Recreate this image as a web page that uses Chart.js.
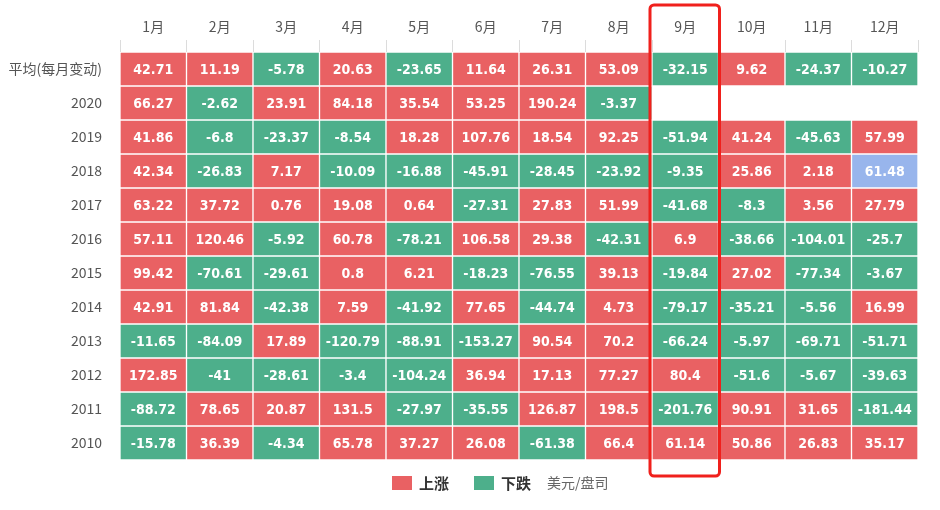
<!DOCTYPE html>
<html>
<head>
<meta charset="utf-8">
<script src="https://cdn.jsdelivr.net/npm/chart.js@4/dist/chart.umd.min.js"></script>
<style>
  html, body { margin: 0; padding: 0; background: #fff; }
  #wrap { width: 940px; height: 510px; position: relative; }
</style>
</head>
<body>
<div id="wrap"><canvas id="heat"></canvas></div>
<script>
// -----------------------------
// DATA
// -----------------------------
const months = ['1月', '2月', '3月', '4月', '5月', '6月', '7月', '8月', '9月', '10月', '11月', '12月'];
const rowLabels = ['平均(每月变动)', '2020', '2019', '2018', '2017', '2016', '2015', '2014', '2013', '2012', '2011', '2010'];

const avgRow = [42.71, 11.19, -5.78, 20.63, -23.65, 11.64, 26.31, 53.09, -32.15, 9.62, -24.37, -10.27];
const y2020 = [66.27, -2.62, 23.91, 84.18, 35.54, 53.25, 190.24, -3.37, null, null, null, null];
const y2019 = [41.86, -6.8, -23.37, -8.54, 18.28, 107.76, 18.54, 92.25, -51.94, 41.24, -45.63, 57.99];
const y2018 = [42.34, -26.83, 7.17, -10.09, -16.88, -45.91, -28.45, -23.92, -9.35, 25.86, 2.18, 61.48];
const y2017 = [63.22, 37.72, 0.76, 19.08, 0.64, -27.31, 27.83, 51.99, -41.68, -8.3, 3.56, 27.79];
const y2016 = [57.11, 120.46, -5.92, 60.78, -78.21, 106.58, 29.38, -42.31, 6.9, -38.66, -104.01, -25.7];
const y2015 = [99.42, -70.61, -29.61, 0.8, 6.21, -18.23, -76.55, 39.13, -19.84, 27.02, -77.34, -3.67];
const y2014 = [42.91, 81.84, -42.38, 7.59, -41.92, 77.65, -44.74, 4.73, -79.17, -35.21, -5.56, 16.99];
const y2013 = [-11.65, -84.09, 17.89, -120.79, -88.91, -153.27, 90.54, 70.2, -66.24, -5.97, -69.71, -51.71];
const y2012 = [172.85, -41, -28.61, -3.4, -104.24, 36.94, 17.13, 77.27, 80.4, -51.6, -5.67, -39.63];
const y2011 = [-88.72, 78.65, 20.87, 131.5, -27.97, -35.55, 126.87, 198.5, -201.76, 90.91, 31.65, -181.44];
const y2010 = [-15.78, 36.39, -4.34, 65.78, 37.27, 26.08, -61.38, 66.4, 61.14, 50.86, 26.83, 35.17];

const rows = [avgRow, y2020, y2019, y2018, y2017, y2016, y2015, y2014, y2013, y2012, y2011, y2010];

const legendItems = ['上涨', '下跌'];
const unitText = '美元/盘司';
const highlightMonth = '9月';
// the one odd cell in the picture (2018, 12月)
const highlightCell = { row: '2018', month: '12月' };

// -----------------------------
// COLOURS
// -----------------------------
const UP = '#e96163';
const DOWN = '#4daf8b';
const MARK = '#98b5ec';

function cellColor(r, c) {
  const v = rows[r][c];
  if (rowLabels[r] === highlightCell.row && months[c] === highlightCell.month) return MARK;
  return v >= 0 ? UP : DOWN;
}

// one floating-bar dataset per row, spanning [r, r+1] on a hidden linear y scale
const datasets = rows.map((row, r) => ({
  label: rowLabels[r],
  data: row.map(v => (v === null ? null : [r, r + 1])),
  values: row,
  backgroundColor: row.map((v, c) => cellColor(r, c)),
  borderColor: '#ffffff',
  borderWidth: 1,
  borderSkipped: false,
  grouped: false,
  barPercentage: 1,
  categoryPercentage: 1
}));

// -----------------------------
// PLUGINS
// -----------------------------
const cellText = {
  id: 'cellText',
  afterDatasetsDraw(chart) {
    const ctx = chart.ctx;
    ctx.save();
    ctx.fillStyle = '#ffffff';
    ctx.font = 'bold 14px "DejaVu Sans Condensed", "DejaVu Sans", sans-serif';
    ctx.textAlign = 'center';
    ctx.textBaseline = 'middle';
    chart.data.datasets.forEach((ds, i) => {
      const meta = chart.getDatasetMeta(i);
      meta.data.forEach((el, j) => {
        const v = ds.values[j];
        if (v === null) return;
        ctx.fillText(String(v), el.x, (el.y + el.base) / 2 + 1);
      });
    });
    ctx.restore();
  }
};

const overlay = {
  id: 'overlay',
  afterDraw(chart) {
    const ctx = chart.ctx;
    const x = chart.scales.x;
    const area = chart.chartArea;
    const idx = months.indexOf(highlightMonth);
    const half = (x.getPixelForValue(1) - x.getPixelForValue(0)) / 2;
    const cx = x.getPixelForValue(idx);

    // red box round the highlighted month
    ctx.save();
    ctx.strokeStyle = '#f0201c';
    ctx.lineWidth = 3;
    ctx.beginPath();
    ctx.roundRect(cx - half - 2, 5, half * 2 + 3, area.bottom + 16 - 5, 4);
    ctx.stroke();
    ctx.restore();

    // legend
    ctx.save();
    const ly = 483;
    let lx = 392;
    const colors = [UP, DOWN];
    ctx.textBaseline = 'middle';
    legendItems.forEach((name, i) => {
      ctx.fillStyle = colors[i];
      ctx.fillRect(lx, ly - 7, 20, 14);
      ctx.fillStyle = '#333';
      ctx.font = 'bold 15px "Noto Sans CJK SC", sans-serif';
      ctx.textAlign = 'left';
      ctx.fillText(name, lx + 27, ly);
      lx += 82;
    });
    ctx.fillStyle = '#666';
    ctx.font = '14px "Noto Sans CJK SC", sans-serif';
    ctx.fillText(unitText, 547, ly);
    ctx.restore();
  }
};

// -----------------------------
// CHART
// -----------------------------
new Chart(document.getElementById('heat'), {
  type: 'bar',
  data: { labels: months, datasets },
  options: {
    responsive: true,
    maintainAspectRatio: false,
    animation: false,
    layout: { padding: { top: 0, right: 22, bottom: 50, left: 0 } },
    plugins: {
      legend: { display: false },
      tooltip: { enabled: false }
    },
    scales: {
      x: {
        position: 'top',
        offset: true,
        grid: {
          offset: true,
          drawOnChartArea: false,
          tickLength: 12,
          color: '#dcdcdc'
        },
        border: { display: false },
        ticks: {
          color: '#555',
          padding: 5,
          font: { family: '"Noto Sans CJK SC", sans-serif', size: 14 }
        },
        afterFit(axis) { axis.height = 52; }
      },
      y: {
        type: 'linear',
        min: 0,
        max: rowLabels.length,
        reverse: true,
        grid: { display: false, drawTicks: false },
        border: { display: false },
        afterBuildTicks(axis) {
          axis.ticks = rowLabels.map((_, i) => ({ value: i + 0.5 }));
        },
        ticks: {
          color: '#555',
          padding: 18,
          font: { family: '"Noto Sans CJK SC", sans-serif', size: 14 },
          callback: (v, i) => rowLabels[i]
        },
        afterFit(axis) { axis.width = 120; }
      }
    }
  },
  plugins: [cellText, overlay]
});
</script>
</body>
</html>
